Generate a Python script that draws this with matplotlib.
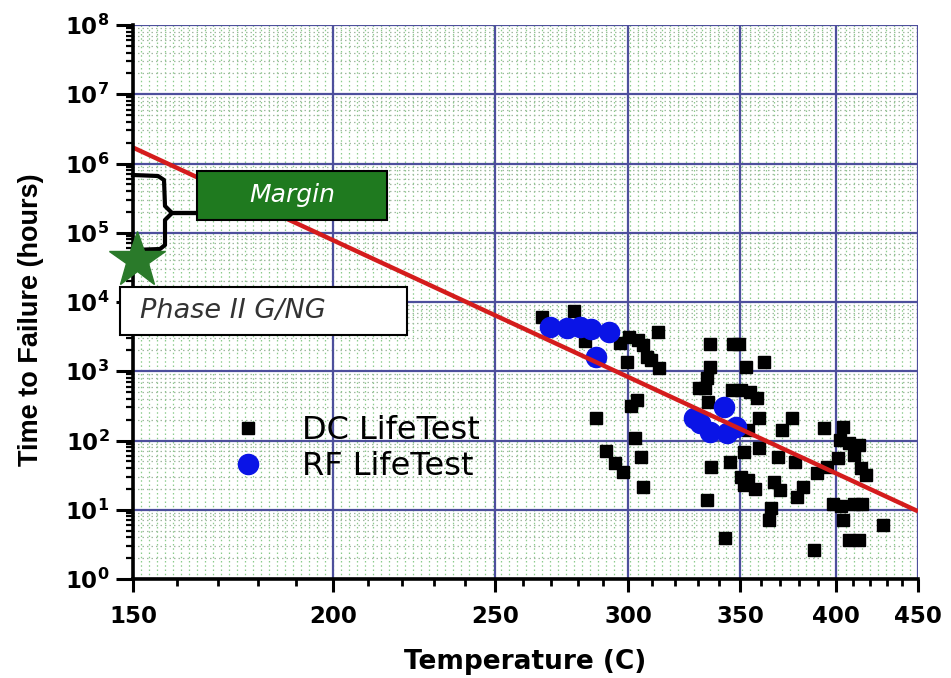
import numpy as np
import matplotlib
matplotlib.use("Agg")
import matplotlib.pyplot as plt
from matplotlib.ticker import FixedLocator, FuncFormatter, LogLocator, NullFormatter
from matplotlib.patches import Rectangle
from matplotlib.collections import LineCollection

# ---------------- data ----------------
dc_temp = [266.5, 278.5, 282.7, 296.6, 300.2, 303.9, 306.0, 312.3, 307.9, 312.8,
           299.6, 309.3, 303.5, 301.3, 287.2, 302.6, 291.0, 294.7, 297.9, 305.2,
           306.0, 335.8, 346.5, 349.4, 361.7, 335.6, 334.1, 330.4, 333.3, 334.7,
           345.8, 350.1, 354.6, 358.2, 352.8, 359.2, 376.1, 370.7, 393.5, 404.0,
           353.7, 351.9, 359.2, 368.9, 377.8, 389.3, 395.0, 336.3, 345.1, 350.1,
           353.7, 351.9, 357.2, 366.9, 369.6, 378.5, 382.0, 334.1, 365.2, 364.3,
           342.7, 388.0, 398.3, 403.0, 404.0, 401.0, 402.6, 407.6, 413.3, 410.5,
           414.4, 417.3, 410.5, 415.3, 428.1, 407.6, 413.3]
dc_hours = [6000, 7500, 2700, 2550, 3160, 2800, 2400, 3700, 1620, 1110,
            1370, 1450, 385, 310, 214, 108, 70, 48, 35, 58,
            21.5, 2470, 2470, 2470, 1380, 1170, 790, 565, 565, 363,
            535, 535, 505, 405, 1170, 210, 210, 142, 150, 155,
            142, 69, 77, 58, 49, 34, 42, 42, 49, 30,
            27, 23, 20, 25, 19, 15.5, 21.5, 13.8, 10.5, 7.1,
            3.9, 2.6, 12.2, 11.5, 7.1, 56, 102, 91, 86, 62,
            40, 32, 12, 12, 6.0, 3.7, 3.7]

rf_temp = [269.5, 275.9, 280.8, 285.3, 292.1, 287.2, 328.2, 331.1, 335.5, 343.5, 342.1, 347.9]
rf_hours = [4400, 4200, 4400, 4100, 3700, 1620, 209, 177, 134, 127, 309, 158]

fit_temp = [150, 450]
fit_hours = [1.7e6, 9.5]

goal_temp = [151]
goal_hours = [4.0e4]

x_major = [150, 200, 250, 300, 350, 400, 450]
x_minor = list(range(150, 451, 10))
y_exponents = list(range(0, 9))

series_labels = ["DC LifeTest", "RF LifeTest"]
margin_label = "Margin"
phase_label = "Phase II G/NG"
x_label = "Temperature (C)"
y_label = "Time to Failure (hours)"

# ---------------- figure ----------------
W, H = 951, 678
fig = plt.figure(figsize=(W / 100, H / 100), dpi=100)
L, R, T, B = 133, 918, 25, 579
ax = fig.add_axes([L / W, (H - B) / H, (R - L) / W, (B - T) / H])


def fwd(t):
    t = np.asarray(t, dtype=float)
    with np.errstate(divide="ignore", invalid="ignore"):
        return -1.0 / (t + 273.0)


def inv(u):
    u = np.asarray(u, dtype=float)
    with np.errstate(divide="ignore", invalid="ignore"):
        return -1.0 / u - 273.0


ax.set_xscale("function", functions=(fwd, inv))
ax.set_yscale("log")
ax.set_xlim(150, 450)
ax.set_ylim(1, 1e8)


def px2ax(x, y):
    return ((x - L) / (R - L), (B - y) / (B - T))


# dotted minor texture (vertical evenly in display, horizontal at log minors)
nv = 98
segs_v = [[(f, 0), (f, 1)] for f in np.linspace(0, 1, nv + 1)[1:-1]]
lc_v = LineCollection(segs_v, colors="#8ccc8c", linewidths=0.9,
                      linestyles=[(0, (1.2, 2.2))], transform=ax.transAxes, zorder=0.5)
ax.add_collection(lc_v)
segs_h = []
for e in y_exponents[:-1]:
    for s in range(2, 10):
        f = (e + np.log10(s)) / 8.0
        segs_h.append([(0, f), (1, f)])
lc_h = LineCollection(segs_h, colors="#a0b8a0", linewidths=0.9,
                      linestyles=[(0, (1.2, 2.4))], transform=ax.transAxes, zorder=0.5)
ax.add_collection(lc_h)

# ticks and major grid
ax.xaxis.set_major_locator(FixedLocator(x_major))
ax.xaxis.set_minor_locator(FixedLocator(x_minor))
ax.xaxis.set_major_formatter(FuncFormatter(lambda v, p: "%d" % round(v)))
ax.xaxis.set_minor_formatter(NullFormatter())
ax.yaxis.set_major_locator(FixedLocator([10.0 ** e for e in y_exponents]))
ax.yaxis.set_minor_locator(LogLocator(base=10, subs=np.arange(2, 10), numticks=50))
ax.yaxis.set_major_formatter(FuncFormatter(lambda v, p: r"$\mathbf{10^{%d}}$" % round(np.log10(v))))
ax.yaxis.set_minor_formatter(NullFormatter())
ax.grid(True, which="major", color="#4d4f9c", linewidth=1.6, zorder=1)
ax.set_axisbelow(True)

for s in ["top", "right"]:
    ax.spines[s].set_visible(False)
for s in ["left", "bottom"]:
    ax.spines[s].set_linewidth(2.6)
    ax.spines[s].set_color("black")
    ax.spines[s].set_zorder(6)

ax.tick_params(axis="x", which="major", length=9, width=2.2, direction="out", pad=10,
               labelsize=16.5)
ax.tick_params(axis="x", which="minor", length=5, width=2.0, direction="out")
ax.tick_params(axis="y", which="major", length=12, width=2.2, direction="out", pad=5,
               labelsize=16.5)
ax.tick_params(axis="y", which="minor", length=5, width=1.6, direction="out")
for lab in ax.get_xticklabels():
    lab.set_fontweight("bold")

# data
dc, = ax.plot(dc_temp, dc_hours, linestyle="none", marker="s", markersize=8.8,
              color="black", zorder=3, label=series_labels[0])
rf, = ax.plot(rf_temp, rf_hours, linestyle="none", marker="o", markersize=14.5,
              color="#0a14e6", markeredgecolor="#0a14e6", zorder=4, label=series_labels[1])
ax.plot(fit_temp, fit_hours, color="#d41c1c", linewidth=3.2, zorder=5,
        solid_capstyle="butt")

# Margin box
x0, y0 = px2ax(197, 220)
x1, y1 = px2ax(387, 171)
ax.add_patch(Rectangle((x0, y0), x1 - x0, y1 - y0, transform=ax.transAxes,
                       facecolor="#1f7a1f", edgecolor="black", linewidth=1.5,
                       zorder=7, clip_on=False))
ax.text((x0 + x1) / 2, (y0 + y1) / 2, margin_label, transform=ax.transAxes,
        ha="center", va="center", color="white", fontsize=18, style="italic",
        zorder=8)

# Phase II box
x0, y0 = px2ax(120, 335)
x1, y1 = px2ax(407, 287)
ax.add_patch(Rectangle((x0, y0), x1 - x0, y1 - y0, transform=ax.transAxes,
                       facecolor="white", edgecolor="black", linewidth=1.5,
                       zorder=7, clip_on=False))
tx, ty = px2ax(140, 311)
ax.text(tx, ty, phase_label, transform=ax.transAxes, ha="left", va="center",
        color="#333333", fontsize=19.5, style="italic", zorder=8)

# bracket
br_px = [(133, 175), (158, 176), (164, 180), (165, 206), (172, 213), (196, 213),
         (172, 213), (165, 220), (165, 245), (160, 249), (133, 250)]
br = [px2ax(x, y) for x, y in br_px]
ax.plot([p[0] for p in br], [p[1] for p in br], transform=ax.transAxes,
        color="black", linewidth=3, zorder=7, clip_on=False,
        solid_joinstyle="round")

# goal star
ax.plot(goal_temp, goal_hours, linestyle="none", marker="*", markersize=42,
        color="#2a7a2a", markeredgecolor="#2a7a2a", zorder=9, clip_on=False)

# legend
leg = ax.legend(handles=[dc, rf], loc="center left",
                bbox_to_anchor=px2ax(232, 448.5), frameon=False,
                fontsize=23, handlelength=1.0, handletextpad=1.2,
                labelspacing=0.15, borderpad=0, borderaxespad=0)
leg.set_zorder(8)

# axis labels
ax.set_xlabel(x_label, fontsize=19, fontweight="bold")
ax.xaxis.set_label_coords(0.5, -(649 - B) / (B - T))
ax.set_ylabel(y_label, fontsize=19.5, fontweight="bold", family="Liberation Sans")
ax.yaxis.set_label_coords(-(L - 44) / (R - L), (B - 320) / (B - T))

fig.savefig("out.png", dpi=100)
